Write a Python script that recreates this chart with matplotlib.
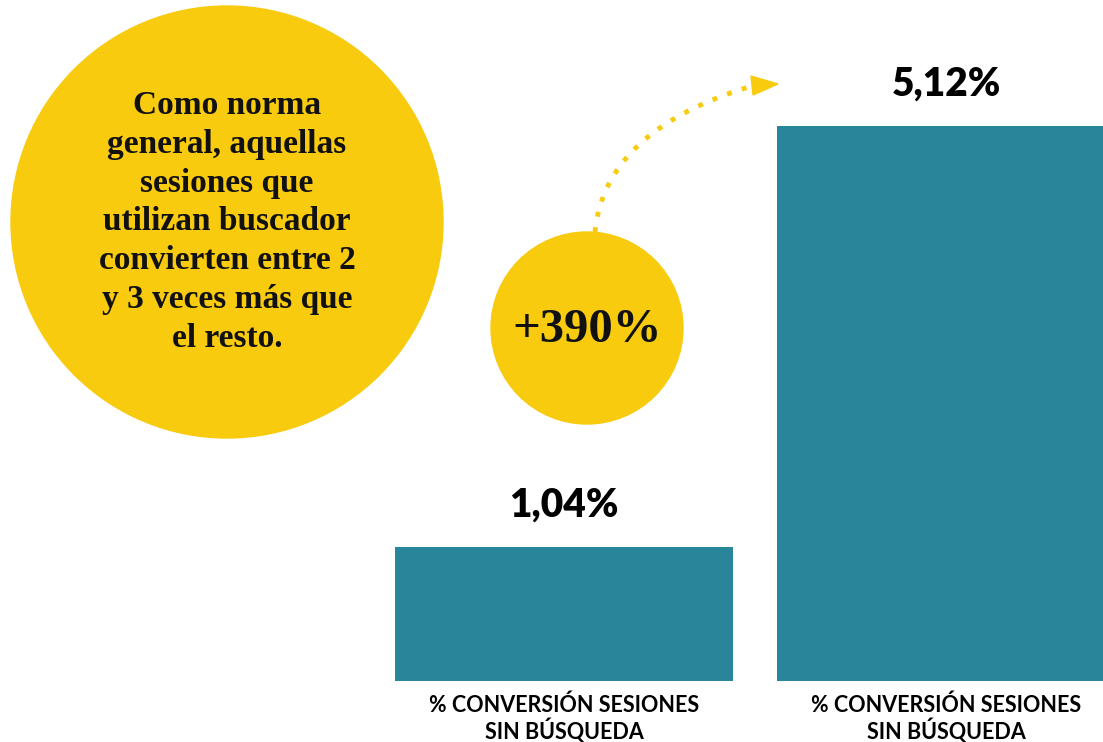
import numpy as np
import matplotlib
matplotlib.use('Agg')
import matplotlib.pyplot as plt
from matplotlib.patches import Circle, Polygon

# data
categories = ['% CONVERSIÓN SESIONES\nSIN BÚSQUEDA', '% CONVERSIÓN SESIONES\nSIN BÚSQUEDA']
values = [1.04, 5.12]
value_labels = ['1,04%', '5,12%']
baseline = -0.26          # bars in the original don't start at zero
uplift_label = '+390%'
note = ('Como norma\ngeneral, aquellas\nsesiones que\nutilizan buscador\n'
        'convierten entre 2\ny 3 veces más que\nel resto.')

TEAL = '#298599'
YELLOW = '#F8CB0E'

fig = plt.figure(figsize=(11.03, 7.42), dpi=100)
fig.patch.set_facecolor('white')

# bar axes spans the whole figure, limits tuned to the reference layout
ax = fig.add_axes([0, 0, 1, 1])
x = np.arange(len(values))
heights = [v - baseline for v in values]
ax.bar(x, heights, bottom=baseline, width=0.885, color=TEAL, zorder=2)
ax.set_xlim(-1.476, 1.411)
ax.set_ylim(-0.851, 6.339)
ax.axis('off')

for xi, v, lab in zip(x, values, value_labels):
    ax.annotate(lab, (xi, v), xytext=(0, 30), textcoords='offset points',
                ha='center', va='center', fontsize=28, fontweight='heavy',
                family='Lato', color='black')
for xi, cat in zip(x, categories):
    ax.annotate(cat, (xi, baseline), xytext=(0, -27.5), textcoords='offset points',
                ha='center', va='center', fontsize=15.5, fontweight='bold',
                family='Lato', color='black', linespacing=1.12)

# overlay in pixel-like coords for the decorations
ov = fig.add_axes([0, 0, 1, 1])
ov.set_xlim(0, 1103)
ov.set_ylim(742, 0)
ov.axis('off')
ov.patch.set_alpha(0)

ov.add_patch(Circle((227, 222), 216, color=YELLOW, zorder=1))
ov.text(227, 222, note, ha='center', va='center', multialignment='center',
        fontsize=24, fontweight='bold', family='Liberation Serif',
        color='#111111', linespacing=1.32, zorder=3)

# dotted curved arrow
p0, p1, p2 = np.array([595, 232]), np.array([605, 130]), np.array([752, 86])
t = np.linspace(0, 1, 100)[:, None]
curve = (1 - t) ** 2 * p0 + 2 * (1 - t) * t * p1 + t ** 2 * p2
ov.plot(curve[:, 0], curve[:, 1], color=YELLOW, lw=3.5,
        linestyle=(0, (1, 2.2)), dash_capstyle='butt', zorder=1)
ov.add_patch(Polygon([(751, 76), (778, 84), (753, 95)], closed=True,
                     color=YELLOW, zorder=2))

ov.add_patch(Circle((587, 328), 96, color=YELLOW, zorder=2))
ov.text(587, 330, uplift_label, ha='center', va='center', fontsize=35,
        fontweight='bold', family='Liberation Serif', color='#111111', zorder=3)

fig.savefig('out.png', dpi=100)
